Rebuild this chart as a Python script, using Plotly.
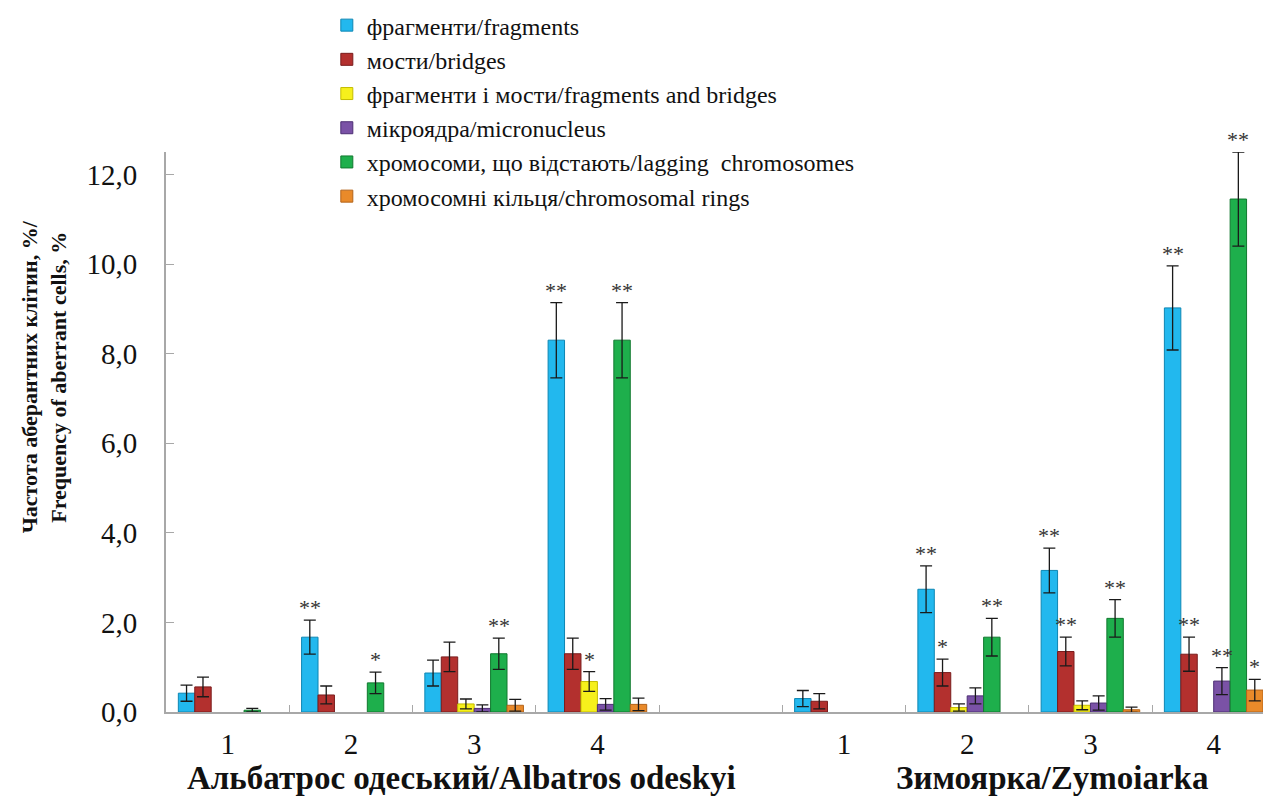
import plotly.graph_objects as go

# ---------------- data ----------------
groups = ["1", "2", "3", "4"]
varieties = ["Альбатрос одеський/Albatros odeskyi", "Зимоярка/Zymoiarka"]

series_names = [
    "фрагменти/fragments",
    "мости/bridges",
    "фрагменти і мости/fragments and bridges",
    "мікроядра/micronucleus",
    "хромосоми, що відстають/lagging  chromosomes",
    "хромосомні кільця/chromosomal rings",
]

# Albatros odeskyi
alb_fragments = [0.42, 1.67, 0.87, 8.30]
alb_fragments_err = [0.18, 0.38, 0.29, 0.84]
alb_bridges = [0.56, 0.38, 1.23, 1.30]
alb_bridges_err = [0.22, 0.20, 0.33, 0.35]
alb_frag_bridges = [None, None, 0.18, 0.68]
alb_frag_bridges_err = [None, None, 0.11, 0.22]
alb_micronucleus = [None, None, 0.08, 0.17]
alb_micronucleus_err = [None, None, 0.08, 0.13]
alb_lagging = [0.04, 0.65, 1.30, 8.30]
alb_lagging_err = [0.04, 0.24, 0.35, 0.84]
alb_rings = [None, None, 0.15, 0.17]
alb_rings_err = [None, None, 0.13, 0.14]

# Zymoiarka
zym_fragments = [0.30, 2.74, 3.16, 9.02]
zym_fragments_err = [0.18, 0.52, 0.50, 0.94]
zym_bridges = [0.24, 0.88, 1.35, 1.29]
zym_bridges_err = [0.17, 0.30, 0.32, 0.38]
zym_frag_bridges = [None, 0.10, 0.15, None]
zym_frag_bridges_err = [None, 0.08, 0.10, None]
zym_micronucleus = [None, 0.36, 0.20, 0.69]
zym_micronucleus_err = [None, 0.18, 0.16, 0.30]
zym_lagging = [None, 1.67, 2.09, 11.45]
zym_lagging_err = [None, 0.42, 0.42, 1.05]
zym_rings = [None, None, 0.05, 0.49]
zym_rings_err = [None, None, 0.06, 0.24]

# significance marks
alb_fragments_sig = ["", "**", "", "**"]
alb_bridges_sig = ["", "", "", ""]
alb_frag_bridges_sig = ["", "", "", "*"]
alb_micronucleus_sig = ["", "", "", ""]
alb_lagging_sig = ["", "*", "**", "**"]
alb_rings_sig = ["", "", "", ""]
zym_fragments_sig = ["", "**", "**", "**"]
zym_bridges_sig = ["", "*", "**", "**"]
zym_frag_bridges_sig = ["", "", "", ""]
zym_micronucleus_sig = ["", "", "", "**"]
zym_lagging_sig = ["", "**", "**", "**"]
zym_rings_sig = ["", "", "", "*"]

colors = ["#22B8EE", "#B3302E", "#F6F01C", "#7A52A6", "#1EAF4C", "#E98A2A"]
edge_colors = ["#0E86B3", "#7A1C1C", "#C4BC00", "#4D2F74", "#11792F", "#B3641A"]

# ---------------- build ----------------
alb = [alb_fragments, alb_bridges, alb_frag_bridges, alb_micronucleus, alb_lagging, alb_rings]
alb_err = [alb_fragments_err, alb_bridges_err, alb_frag_bridges_err, alb_micronucleus_err,
           alb_lagging_err, alb_rings_err]
alb_sig = [alb_fragments_sig, alb_bridges_sig, alb_frag_bridges_sig, alb_micronucleus_sig,
           alb_lagging_sig, alb_rings_sig]
zym = [zym_fragments, zym_bridges, zym_frag_bridges, zym_micronucleus, zym_lagging, zym_rings]
zym_err = [zym_fragments_err, zym_bridges_err, zym_frag_bridges_err, zym_micronucleus_err,
           zym_lagging_err, zym_rings_err]
zym_sig = [zym_fragments_sig, zym_bridges_sig, zym_frag_bridges_sig, zym_micronucleus_sig,
           zym_lagging_sig, zym_rings_sig]

# unique category keys, displayed with the plain group numbers
categories = ["A" + g for g in groups] + ["gap"] + ["Z" + g for g in groups]
tick_labels = groups + [""] + groups

FONT = "Liberation Serif"
bargap = 0.2
n = len(series_names)
bw = (1 - bargap) / n

fig = go.Figure()
annotations = []
for i, name in enumerate(series_names):
    vals = alb[i] + [None] + zym[i]
    errs = alb_err[i] + [None] + zym_err[i]
    sigs = alb_sig[i] + [""] + zym_sig[i]
    fig.add_trace(go.Bar(
        x=categories, y=vals, name=name,
        marker=dict(color=colors[i], line=dict(color=edge_colors[i], width=1)),
        error_y=dict(type="data", array=errs, color="#1a1a1a", thickness=1.3, width=6),
    ))
    off = -0.5 * (1 - bargap) + (i + 0.5) * bw
    for k, (v, e, s) in enumerate(zip(vals, errs, sigs)):
        if s and v is not None:
            annotations.append(dict(
                x=k + off, y=v + (e or 0), xref="x", yref="y", text=s,
                showarrow=False, yanchor="bottom", xanchor="center", yshift=-2,
                font=dict(family=FONT, size=22, color="#333333")))

# variety labels
annotations.append(dict(x=1.9, y=-0.118, xref="x", yref="paper", text="<b>" + varieties[0] + "</b>",
                        showarrow=False, xanchor="center", yanchor="middle",
                        font=dict(family=FONT, size=33, color="#111")))
annotations.append(dict(x=6.69, y=-0.118, xref="x", yref="paper", text="<b>" + varieties[1] + "</b>",
                        showarrow=False, xanchor="center", yanchor="middle",
                        font=dict(family=FONT, size=33, color="#111")))
# y-axis title
annotations.append(dict(x=-0.111, y=0.598, xref="paper", yref="paper",
                        text="<b>Частота аберантних клітин, %/<br>Frequency of aberrant cells, %</b>",
                        textangle=-90, showarrow=False, xanchor="center", yanchor="middle",
                        font=dict(family=FONT, size=22, color="#111")))

fig.update_layout(
    width=1263, height=798,
    margin=dict(l=166, r=0, t=152, b=86, autoexpand=False),
    barmode="group", bargap=bargap, bargroupgap=0,
    plot_bgcolor="white", paper_bgcolor="white",
    separators=", ",
    font=dict(family=FONT, color="#111"),
    showlegend=True,
    legend=dict(x=0.1466, y=1.266, xanchor="left", yanchor="top",
                font=dict(family=FONT, size=24, color="#111"),
                bgcolor="rgba(0,0,0,0)", tracegroupgap=0, itemwidth=30),
    annotations=annotations,
    xaxis=dict(type="category", categoryorder="array", categoryarray=categories,
               range=[-0.5, 8.4], tickmode="array", tickvals=categories, ticktext=tick_labels,
               tickson="boundaries", ticks="inside", ticklen=7, tickcolor="#A8A8A8", tickwidth=1,
               showline=True, linecolor="#A8A8A8", linewidth=2,
               showgrid=False, zeroline=False, ticklabelstandoff=5,
               tickfont=dict(family=FONT, size=29, color="#111")),
    yaxis=dict(range=[0, 12.5], tick0=0, dtick=2, tickformat=".1f",
               ticks="inside", ticklen=8, tickcolor="#A8A8A8", tickwidth=1,
               showline=True, linecolor="#A8A8A8", linewidth=2,
               showgrid=False, zeroline=False, ticklabelstandoff=21,
               tickfont=dict(family=FONT, size=29, color="#111")),
)

fig.write_html("out.html", post_script="document.body.style.margin='0';",
               config={"displayModeBar": False})
